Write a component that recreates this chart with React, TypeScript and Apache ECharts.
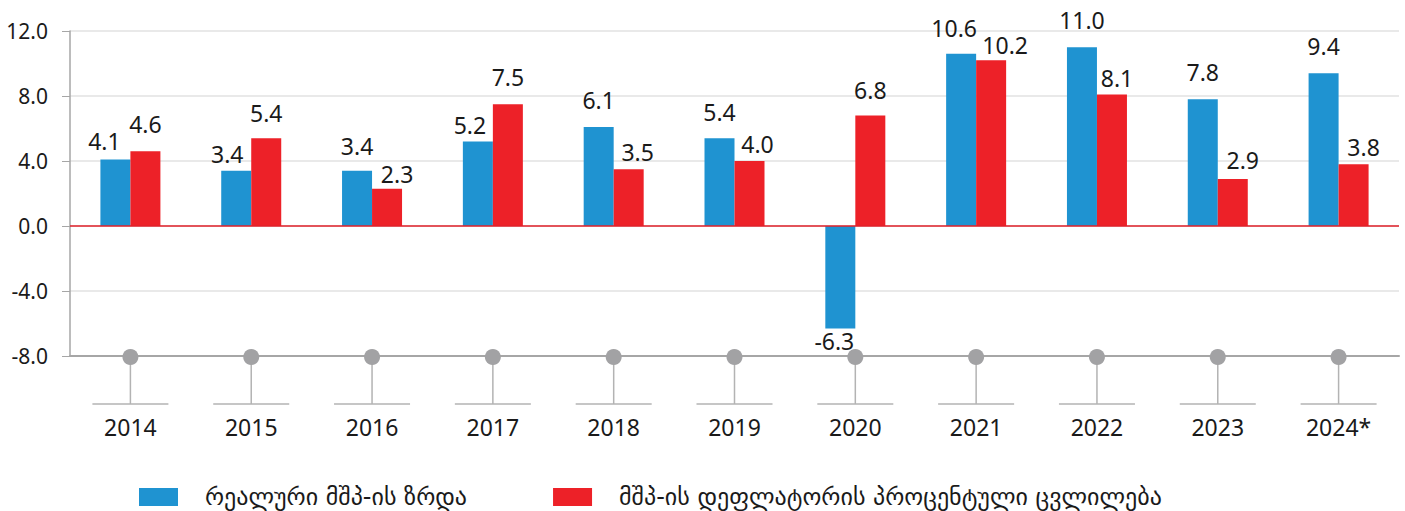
import React, { useEffect, useRef } from "react";
import * as echarts from "echarts";

const categories = ["2014", "2015", "2016", "2017", "2018", "2019", "2020", "2021", "2022", "2023", "2024*"];
const realGrowth = [4.1, 3.4, 3.4, 5.2, 6.1, 5.4, -6.3, 10.6, 11.0, 7.8, 9.4];
const deflator = [4.6, 5.4, 2.3, 7.5, 3.5, 4.0, 6.8, 10.2, 8.1, 2.9, 3.8];
const seriesNames = ["რეალური მშპ-ის ზრდა", "მშპ-ის დეფლატორის პროცენტული ცვლილება"];
const yMin = -8;
const yMax = 12;
const yStep = 4;

// label nudges (style only): horizontal shift and gap above bar end, per category
const blueLabelDx = [-11, -9, 0, -8, 0, 0, -6, -7, 0, 0, 0];
const blueLabelGap = [10, 9, 17, 9, 19, 18, 5, 18, 19, 19, 19];
const redLabelDx = [0, 0, 10, 0, 9, 8, 0, 14, 5, 10, 10];
const redLabelGap = [19, 17, 7, 19, 9, 9, 18, 7, 8, 11, 9];

const BLUE = "#1f93d1";
const RED = "#ed2128";
const NUM_FONT = "'Noto Sans', sans-serif";
const GEO_FONT = "'DejaVu Sans', sans-serif";

function mkData(vals: number[], dx: number[], gap: number[]) {
  return vals.map((v, i) => ({
    value: v,
    label: {
      position: v < 0 ? "bottom" : "top",
      distance: Math.max(0, gap[i] - 3.5),
      offset: [dx[i], 0],
    },
  }));
}

export default function App() {
  const ref = useRef<HTMLDivElement>(null);
  useEffect(() => {
    if (!ref.current) return;
    const chart = echarts.init(ref.current, null, { renderer: "svg" });
    const labelCfg = {
      show: true,
      fontFamily: NUM_FONT,
      fontSize: 23,
      lineHeight: 23,
      color: "#1a1a1a",
      formatter: (p: any) => Number(p.value).toFixed(1),
    };
    chart.setOption({
      animation: false,
      grid: { left: 70, right: 6, top: 31, bottom: 155, containLabel: false },
      legend: {
        top: 485,
        left: 139,
        padding: 0,
        itemWidth: 39,
        itemHeight: 18,
        itemGap: 86,
        icon: "rect",
        textStyle: { fontFamily: GEO_FONT, fontSize: 24, lineHeight: 24, color: "#1a1a1a", padding: [0, 0, 0, 22] },
        data: seriesNames,
      },
      xAxis: {
        type: "category",
        data: categories,
        axisLine: { onZero: false, lineStyle: { color: "#a6a6a6", width: 2 } },
        axisTick: { show: false },
        axisLabel: { margin: 59, fontFamily: NUM_FONT, fontSize: 23, color: "#1a1a1a" },
      },
      yAxis: {
        type: "value",
        min: yMin,
        max: yMax,
        interval: yStep,
        axisLine: { show: true, lineStyle: { color: "#a6a6a6", width: 1.5 } },
        axisTick: { show: true, length: 8, lineStyle: { color: "#a6a6a6" } },
        axisLabel: {
          margin: 22,
          fontFamily: NUM_FONT,
          fontSize: 21,
          color: "#1a1a1a",
          formatter: (v: number) => v.toFixed(1),
        },
        splitLine: { lineStyle: { color: "#e2e2e2", width: 1.5 } },
      },
      series: [
        {
          name: seriesNames[0],
          type: "bar",
          barWidth: 30,
          barGap: "0%",
          itemStyle: { color: BLUE },
          label: labelCfg,
          data: mkData(realGrowth, blueLabelDx, blueLabelGap),
          markLine: {
            silent: true,
            symbol: "none",
            label: { show: false },
            lineStyle: { color: "#e0202a", width: 1.5, type: "solid" },
            data: [{ yAxis: 0 }],
            z: 5,
          },
        },
        {
          name: seriesNames[1],
          type: "bar",
          barWidth: 30,
          barGap: "0%",
          itemStyle: { color: RED },
          label: labelCfg,
          data: mkData(deflator, redLabelDx, redLabelGap),
        },
        {
          type: "custom",
          silent: true,
          clip: false,
          z: 10,
          data: categories.map((_, i) => [i, yMin]),
          renderItem: (params: any, api: any) => {
            const pt = api.coord([api.value(0), api.value(1)]);
            const x = pt[0];
            const y = pt[1];
            return {
              type: "group",
              children: [
                { type: "line", shape: { x1: x, y1: y, x2: x, y2: y + 48 }, style: { stroke: "#b3b3b3", lineWidth: 1.5 } },
                { type: "line", shape: { x1: x - 38, y1: y + 48, x2: x + 38, y2: y + 48 }, style: { stroke: "#b3b3b3", lineWidth: 1.5 } },
                { type: "circle", shape: { cx: x, cy: y + 1, r: 8 }, style: { fill: "#a2a2a4" } },
              ],
            };
          },
        },
      ],
    });
    return () => chart.dispose();
  }, []);
  return <div ref={ref} style={{ position: "absolute", left: 0, top: 0, width: 1405, height: 511 }} />;
}
